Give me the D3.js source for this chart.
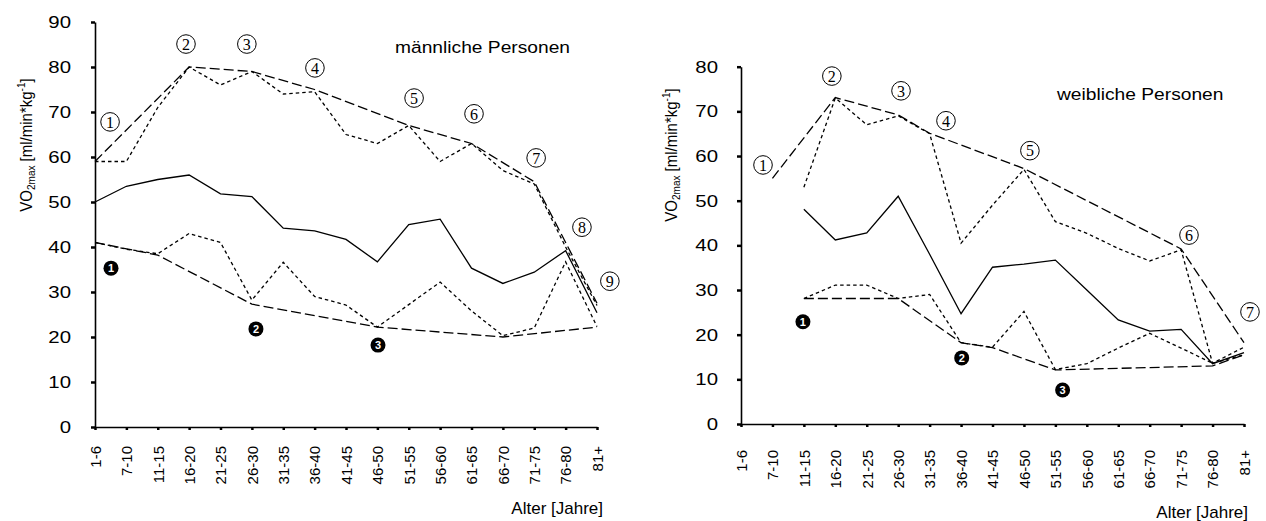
<!DOCTYPE html>
<html>
<head>
<meta charset="utf-8">
<script src="https://cdn.jsdelivr.net/npm/d3@7"></script>
<style>
  body { margin: 0; background: #fff; }
  svg text { font-family: "Liberation Sans", Arial, sans-serif; fill: #000; }
</style>
</head>
<body>
<svg id="chart" width="1266" height="521"></svg>
<script>
const categories = ['1-6', '7-10', '11-15', '16-20', '21-25', '26-30', '31-35', '36-40', '41-45',
  '46-50', '51-55', '56-60', '61-65', '66-70', '71-75', '76-80', '81+']

// männliche Personen
const maleMean = [50, 53.5, 55, 56, 51.8, 51.2, 44.2, 43.6, 41.7, 36.7, 45, 46.2, 35.3, 31.9, 34.4, 39.2, 25.4]
const maleMax = [59, 59, 71, 80, 76, 79, 74, 74.5, 65, 63, 67, 59, 63, 57, 54, 40, 27]
const maleMin = [41, 39.5, 38.5, 43, 41, 28.2, 36.6, 29, 27.1, 22.2, 27.2, 32.2, 25.8, 20.3, 22, 36.7, 22.3]
const maleUpper = [59, null, null, 80, null, 79, null, 75, null, null, 67, null, 63, null, 54.5, 41, 27.5]
const maleLower = [41, null, 38.2, null, null, 27.3, null, null, null, 22.2, null, null, null, 20, null, null, 22.2]
const maleTicks = [0, 10, 20, 30, 40, 50, 60, 70, 80, 90]
// [number, category position, value]
const maleMarks = [[1, 0.48, 67.8], [2, 2.9, 85.1], [3, 4.84, 85.1], [4, 7.01, 79.8],
  [5, 10.17, 73.1], [6, 12.08, 69.6], [7, 14.06, 59.8], [8, 15.52, 44.4], [9, 16.41, 32.4]]
const maleMarksLow = [[1, 0.51, 35.3], [2, 5.13, 21.8], [3, 9.02, 18.2]]

// weibliche Personen
const femaleMean = [null, null, 48.1, 41.2, 42.8, 51, 38, 24.7, 35.1, 35.8, 36.7, 30, 23.3, 20.8, 21.2, 13.5, 16]
const femaleMax = [null, null, 53, 73, 67, 69, 65, 40.5, 49, 57, 45.3, 42.7, 39.3, 36.5, 39, 13.6, 17.2]
const femaleMin = [null, null, 28.1, 31.1, 31.1, 28.1, 29, 18.2, 17.2, 25.2, 12.2, 13.5, 17, 20.3, 17, 13.6, 15.5]
const femaleUpper = [null, 55, null, 73.1, null, 69.2, 65.1, null, null, 57.2, null, null, null, null, 39.2, null, 18.2]
const femaleLower = [null, null, 28.1, null, null, 28.1, null, 18.2, 17.1, null, 12.1, null, null, null, null, 13, 15.5]
const femaleTicks = [0, 10, 20, 30, 40, 50, 60, 70, 80]
const femaleMarks = [[1, 0.7, 58], [2, 2.89, 77.9], [3, 5.09, 74.6], [4, 6.52, 67.9],
  [5, 9.19, 61.2], [6, 14.25, 42.3], [7, 16.19, 25.1]]
const femaleMarksLow = [[1, 1.97, 22.9], [2, 7.02, 14.8], [3, 10.23, 7.6]]

const svg = d3.select('#chart')

function drawPanel(p) {
  const g = svg.append('g')
  const x = d3.scalePoint().domain(categories).range([p.left, p.right])
  const xi = d3.scaleLinear().domain([0, categories.length - 1]).range([p.left, p.right])
  const y = d3.scaleLinear().domain([0, p.yMax]).range([p.bottom, p.top])

  // axes
  const yAxis = g.append('g')
    .attr('transform', `translate(${p.left},0)`)
    .call(d3.axisLeft(y).tickValues(p.ticks).tickSize(4).tickSizeOuter(0))
  yAxis.select('.domain').attr('stroke-width', 1.6)
  yAxis.selectAll('.tick line').attr('stroke-width', 2.5)
  yAxis.selectAll('.tick text')
    .attr('x', -p.yPad / 1.2)
    .attr('transform', 'scale(1.2,1)')
    .style('font-size', '17px')

  const xAxis = g.append('g')
    .attr('transform', `translate(0,${p.bottom})`)
    .call(d3.axisBottom(x).tickSize(3).tickSizeOuter(0))
  xAxis.select('.domain').attr('stroke-width', 1.6)
  xAxis.selectAll('.tick line').attr('stroke-width', 2.5)
  xAxis.selectAll('.tick text')
    .attr('transform', 'rotate(-90)')
    .attr('text-anchor', 'end')
    .attr('x', -p.xPad)
    .attr('y', 0)
    .attr('dy', '0.35em')
    .style('font-size', '15px')

  // lines
  const line = d3.line().x(d => x(d.c)).y(d => y(d.v))
  const series = [
    [p.upper, '10,4'], [p.lower, '10,4'],
    [p.max, '3.5,3'], [p.min, '3.5,3'],
    [p.mean, null]
  ]
  series.forEach(([vals, dash]) => {
    const pts = categories.map((c, i) => ({ c: c, v: vals[i] })).filter(d => d.v != null)
    g.append('path')
      .datum(pts)
      .attr('d', line)
      .attr('fill', 'none')
      .attr('stroke', '#000')
      .attr('stroke-width', 1.3)
      .attr('stroke-dasharray', dash)
  })

  // circled numbers (upper envelope)
  const mk = g.selectAll('.mark')
    .data(p.marks)
    .enter().append('g')
    .attr('class', 'mark')
    .attr('transform', d => `translate(${xi(d[1])},${y(d[2])})`)
  mk.append('circle').attr('r', 9.3).attr('fill', 'none').attr('stroke', '#000').attr('stroke-width', 1)
  mk.append('text')
    .attr('text-anchor', 'middle')
    .attr('dy', '0.36em')
    .style('font-family', '"Liberation Serif", serif')
    .style('font-size', '16px')
    .text(d => d[0])

  // filled circled numbers (lower envelope)
  const ml = g.selectAll('.markl')
    .data(p.marksLow)
    .enter().append('g')
    .attr('class', 'markl')
    .attr('transform', d => `translate(${xi(d[1])},${y(d[2])})`)
  ml.append('circle').attr('r', 7.5).attr('fill', '#000')
  ml.append('text')
    .attr('text-anchor', 'middle')
    .attr('dy', '0.36em')
    .style('font-size', '11px')
    .style('font-weight', 'bold')
    .style('fill', '#fff')
    .text(d => d[0])

  // titles
  g.append('text')
    .attr('transform', `translate(${p.title[0]},${p.title[1]}) scale(1.13,1)`)
    .style('font-size', '17px')
    .text(p.titleText)

  g.append('text')
    .attr('x', p.xLabel[0])
    .attr('y', p.xLabel[1])
    .attr('text-anchor', 'end')
    .style('font-size', '17px')
    .text('Alter [Jahre]')

  const yt = g.append('text')
    .attr('transform', `translate(${p.yLabel[0]},${p.yLabel[1]}) scale(1.13,1) rotate(-90)`)
    .attr('text-anchor', 'middle')
    .style('font-size', '15px')
  yt.append('tspan').text('VO')
  yt.append('tspan').attr('dy', 3).style('font-size', '10px').text('2max')
  yt.append('tspan').attr('dy', -3).text(' [ml/min*kg')
  yt.append('tspan').attr('dy', -6).style('font-size', '10px').text('-1')
  yt.append('tspan').attr('dy', 6).text(']')
}

drawPanel({
  left: 95, right: 597, top: 22, bottom: 427, yMax: 90, ticks: maleTicks,
  yPad: 24, xPad: 19,
  mean: maleMean, max: maleMax, min: maleMin, upper: maleUpper, lower: maleLower,
  marks: maleMarks, marksLow: maleMarksLow,
  title: [395, 53], titleText: 'männliche Personen',
  xLabel: [603, 514], yLabel: [32, 145]
})

drawPanel({
  left: 741, right: 1244, top: 66.7, bottom: 424, yMax: 80, ticks: femaleTicks,
  yPad: 23, xPad: 26,
  mean: femaleMean, max: femaleMax, min: femaleMin, upper: femaleUpper, lower: femaleLower,
  marks: femaleMarks, marksLow: femaleMarksLow,
  title: [1057, 100], titleText: 'weibliche Personen',
  xLabel: [1248, 518], yLabel: [677, 155]
})
</script>
</body>
</html>
